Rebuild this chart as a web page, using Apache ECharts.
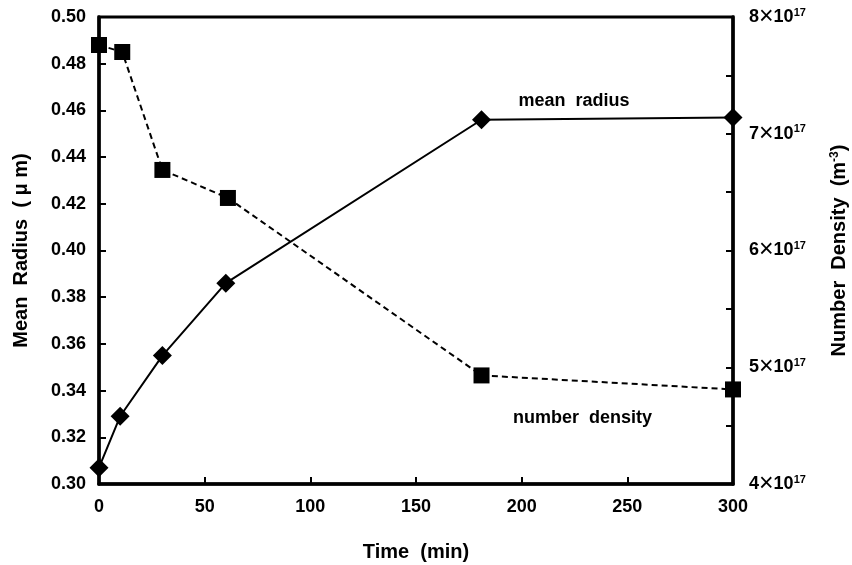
<!DOCTYPE html>
<html>
<head>
<meta charset="utf-8">
<script src="https://cdn.jsdelivr.net/npm/echarts@6/dist/echarts.min.js"></script>
<style>html,body{margin:0;padding:0;background:#fff}#c{width:852px;height:565px}</style>
</head>
<body>
<div id="c"></div>
<script>
// Data
const timeRadius = [0, 10, 30, 60, 181, 300];
const meanRadius = [0.307, 0.329, 0.355, 0.386, 0.456, 0.457];
const timeDensity = [0, 11, 30, 61, 181, 300];
const numberDensity = [7.76, 7.70, 6.69, 6.45, 4.93, 4.81]; // ×10^17 m^-3
const xTicks = [0, 50, 100, 150, 200, 250, 300];
const radiusNote = { text: 'mean  radius', x: 225, y: 0.4636 };
const densityNote = { text: 'number  density', x: 229, y: 4.565 };

const FONT = '"Liberation Sans", Arial, Helvetica, sans-serif';
const chart = echarts.init(document.getElementById('c'), null, { renderer: 'canvas' });

const axisStyle = { lineStyle: { color: '#000', width: 3.5 } };
const labelBase = { color: '#000', fontFamily: FONT, fontWeight: 'bold', fontSize: 18 };

function noteSeries(note, axisIndex) {
  return {
    type: 'scatter', yAxisIndex: axisIndex, silent: true,
    data: [[note.x, note.y]],
    symbol: 'circle', symbolSize: 1,
    itemStyle: { color: 'rgba(0,0,0,0)' },
    label: Object.assign({ show: true, position: [0, 0], align: 'center', verticalAlign: 'middle', formatter: note.text }, labelBase,
      { fontSize: 18, color: '#000', textBorderWidth: 0, textBorderColor: 'transparent', opacity: 1 }),
    emphasis: { disabled: true },
    z: 10
  };
}

chart.setOption({
  backgroundColor: '#fff',
  animation: false,
  grid: { left: 99, right: 119, top: 17, bottom: 81, containLabel: false, outerBoundsMode: 'none',
          show: true, borderColor: '#000', borderWidth: 3, backgroundColor: 'transparent' },
  xAxis: {
    type: 'value', min: xTicks[0], max: xTicks[xTicks.length - 1], interval: 50,
    name: 'Time  (min)', nameLocation: 'middle', nameGap: 58,
    nameTextStyle: Object.assign({}, labelBase, { fontSize: 20 }),
    axisLine: axisStyle,
    axisTick: { inside: true, length: 7, lineStyle: { color: '#000', width: 2 } },
    axisLabel: Object.assign({}, labelBase, { margin: 14 }),
    splitLine: { show: false }
  },
  yAxis: [
    {
      type: 'value', min: 0.30, max: 0.50, interval: 0.02, position: 'left',
      name: 'Mean  Radius  ( \u03bc m)', nameLocation: 'middle', nameGap: 68, nameRotate: 90,
      nameTextStyle: Object.assign({}, labelBase, { fontSize: 20 }),
      axisLine: { show: true, lineStyle: { color: '#000', width: 3.5 } },
      axisTick: { show: true, inside: true, length: 7, lineStyle: { color: '#000', width: 2 } },
      axisLabel: Object.assign({}, labelBase, { margin: 13, formatter: v => v.toFixed(2) }),
      splitLine: { show: false }
    },
    {
      type: 'value', min: 4, max: 8, interval: 0.5, position: 'right',
      name: '{t|Number  Density  (m}{s|-3}{t|)}', nameLocation: 'middle', nameGap: 96, nameRotate: 90,
      nameTextStyle: {
        rich: {
          t: Object.assign({}, labelBase, { fontSize: 20 }),
          s: Object.assign({}, labelBase, { fontSize: 12, padding: [0, 0, 9, 0] })
        }
      },
      axisLine: { show: true, lineStyle: { color: '#000', width: 3.5 } },
      axisTick: { show: true, inside: true, length: 7, lineStyle: { color: '#000', width: 2 } },
      axisLabel: {
        margin: 16,
        formatter: v => (Math.abs(v - Math.round(v)) < 1e-9 ? '{n|' + Math.round(v) + '}{x|\u00d7}{n|10}{s|17}' : ''),
        rich: {
          n: Object.assign({}, labelBase, { fontSize: 18 }),
          x: { color: '#000', fontFamily: FONT, fontWeight: 'normal', fontSize: 25 },
          s: Object.assign({}, labelBase, { fontSize: 11, padding: [0, 0, 9, 0] })
        }
      },
      splitLine: { show: false }
    }
  ],
  series: [
    {
      name: 'mean radius', type: 'line', yAxisIndex: 0,
      data: timeRadius.map((t, i) => [t, meanRadius[i]]),
      symbol: 'diamond', symbolSize: [19, 19], showAllSymbol: true,
      itemStyle: { color: '#000' },
      lineStyle: { color: '#000', width: 2 },
      z: 5
    },
    {
      name: 'number density', type: 'line', yAxisIndex: 1,
      data: timeDensity.map((t, i) => [t, numberDensity[i]]),
      symbol: 'rect', symbolSize: [16, 16], showAllSymbol: true,
      itemStyle: { color: '#000' },
      lineStyle: { color: '#000', width: 2, type: [6, 4] },
      z: 4
    },
    noteSeries(radiusNote, 0),
    noteSeries(densityNote, 1)
  ]
});
</script>
</body>
</html>
